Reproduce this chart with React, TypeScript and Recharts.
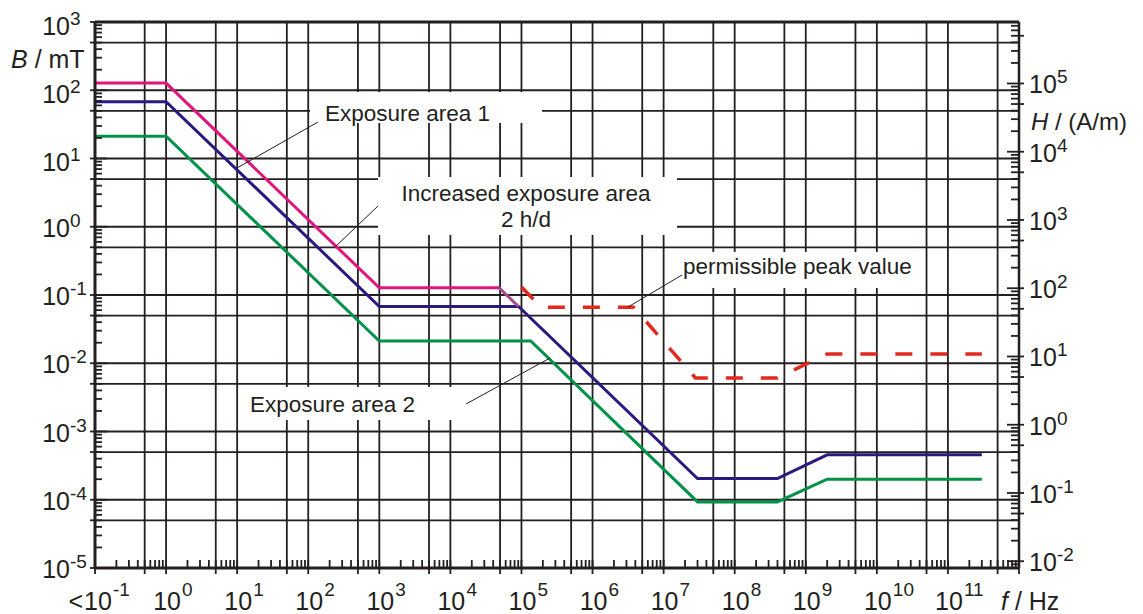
import React from 'react';
import { LineChart, Line, XAxis, YAxis, CartesianGrid, ReferenceLine } from 'recharts';

// B in mT -> H in A/m: H = B / (4*pi*1e-4)
const MU0 = 4 * Math.PI * 1e-4;

// increased exposure area 2 h/d (pink)
const incFreq = [0.1, 1, 1e3, 4.85e4];
const incB = [127.3, 127.3, 0.1273, 0.1273];
// short joint from the pink plateau down to the blue knee
const bridgeFreq = [4.85e4, 9.1e4];
const bridgeB = [0.1273, 0.0679];
// exposure area 1 (blue)
const area1Freq = [0.1, 1, 1e3, 9.1e4, 3e7, 4e8, 2e9, 3e11];
const area1B = [67.9, 67.9, 0.0679, 0.0679, 2.04e-4, 2.04e-4, 4.56e-4, 4.56e-4];
// exposure area 2 (green)
const area2Freq = [0.1, 1, 1e3, 1.35e5, 3e7, 4e8, 2e9, 3e11];
const area2B = [21.2, 21.2, 0.0212, 0.0212, 9.3e-5, 9.3e-5, 2.0e-4, 2.0e-4];
// permissible peak value (red dashed)
const peakFreq = [1e5, 1.9e5, 3.8e6, 2.8e7, 4e8, 2e9, 3e11];
const peakB = [0.131, 0.066, 0.066, 6.1e-3, 6.1e-3, 0.0137, 0.0137];

const gridFreq = [0.5, 1, 5, 10, 50, 100, 500, 1e3, 5e3, 1e4, 5e4, 1e5, 5e5, 1e6, 5e6, 1e7, 5e7, 1e8, 5e8, 1e9, 5e9, 1e10, 5e10, 1e11, 5e11];
const gridB = [5e-5, 1e-4, 5e-4, 1e-3, 5e-3, 1e-2, 5e-2, 0.1, 0.5, 1, 5, 10, 50, 100, 500];

const zip = (f: number[], b: number[]) => f.map((x, i) => ({ f: x, b: b[i] }));

function logTicks(lo: number, hi: number) {
  const out: number[] = [];
  for (let e = Math.floor(Math.log10(lo)); e <= Math.ceil(Math.log10(hi)); e++) {
    for (let m = 1; m <= 9; m++) {
      const v = Number((m * Math.pow(10, e)).toPrecision(6));
      if (v >= lo * (1 - 1e-9) && v <= hi * (1 + 1e-9)) out.push(v);
    }
  }
  return out;
}

function split(v: number) {
  const e = Math.floor(Math.log10(v) + 1e-9);
  const m = Math.round(v / Math.pow(10, e));
  return { e, m };
}

const INK = '#231f20';
const FONT = '"Liberation Sans", Arial, sans-serif';

const XTick = (props: any) => {
  const { x, y, payload } = props;
  const { e, m } = split(payload.value);
  const major = m === 1;
  return (
    <g>
      <line x1={x} x2={x} y1={y} y2={y - 8} stroke={INK} strokeWidth={1.8} />
      {(major || m === 5) && <line x1={x} x2={x} y1={y} y2={y + 6} stroke={INK} strokeWidth={1.8} />}
      {major && e <= 11 && (
        <g fontFamily={FONT} fill={INK}>
          {e === -1 && (
            <text x={x - 12} y={y + 42} fontSize={25} textAnchor="end">&lt;</text>
          )}
          <text x={x + (e === -1 ? 3 : 1)} y={y + 42} fontSize={25} textAnchor="middle">10</text>
          <text x={x + (e === -1 ? 18 : 16)} y={y + 28} fontSize={19}>{e}</text>
        </g>
      )}
    </g>
  );
};

const YTickL = (props: any) => {
  const { x, y, payload } = props;
  const { e, m } = split(payload.value);
  const major = m === 1;
  return (
    <g>
      <line x1={major || m === 5 ? x - 5 : x} x2={x + (major ? 12 : 7)} y1={y} y2={y} stroke={INK} strokeWidth={1.8} />
      {major && (
        <g fontFamily={FONT} fill={INK}>
          <text x={x - 25} y={y + (e > 0 ? 12.5 : 10)} fontSize={25} textAnchor="end">10</text>
          <text x={x - 25} y={y + (e > 0 ? 2.5 : 0)} fontSize={19}>{e}</text>
        </g>
      )}
    </g>
  );
};

const YTickR = (props: any) => {
  const { x, y, payload } = props;
  const { e, m } = split(payload.value);
  const major = m === 1;
  return (
    <g>
      <line x1={x - (major ? 12 : 8)} x2={major || m === 5 ? x + 5 : x} y1={y} y2={y} stroke={INK} strokeWidth={1.8} />
      {major && (
        <g fontFamily={FONT} fill={INK}>
          <text x={x + 10} y={y + 10} fontSize={25}>10</text>
          <text x={x + 38} y={y} fontSize={19}>{e}</text>
        </g>
      )}
    </g>
  );
};

const W = 1143;
const H = 614;

export default function App() {
  const xTicks = logTicks(0.1, 1e12);
  const yTicks = logTicks(1e-5, 1e3);
  const hTicks = logTicks(1e-5 / MU0, 1e3 / MU0);

  return (
    <div style={{ position: 'absolute', left: 0, top: 0, width: W, height: H, background: '#fff' }}>
      <LineChart width={W} height={H} margin={{ top: 22, right: 0, bottom: 0, left: 0 }}>
        <CartesianGrid
          stroke={INK}
          strokeWidth={1.8}
          strokeOpacity={1}
          verticalValues={gridFreq}
          horizontalValues={gridB}
        />
        <XAxis
          type="number"
          dataKey="f"
          scale="log"
          domain={[0.1, 1e12]}
          allowDataOverflow
          ticks={xTicks}
          interval={0}
          tick={<XTick />}
          tickLine={false}
          tickSize={0}
          tickMargin={0}
          height={46}
          axisLine={{ stroke: INK, strokeWidth: 3 }}
        />
        <YAxis
          type="number"
          dataKey="b"
          scale="log"
          domain={[1e-5, 1e3]}
          allowDataOverflow
          ticks={yTicks}
          interval={0}
          tick={<YTickL />}
          tickLine={false}
          tickSize={0}
          tickMargin={0}
          width={95}
          axisLine={{ stroke: INK, strokeWidth: 3 }}
        />
        <YAxis
          yAxisId="H"
          orientation="right"
          type="number"
          scale="log"
          domain={[1e-5 / MU0, 1e3 / MU0]}
          allowDataOverflow
          ticks={hTicks}
          interval={0}
          tick={<YTickR />}
          tickLine={false}
          tickSize={0}
          tickMargin={0}
          width={124}
          axisLine={{ stroke: INK, strokeWidth: 2.5 }}
        />
        <ReferenceLine y={1000} stroke={INK} strokeWidth={3} />
        <Line data={zip(area2Freq, area2B)} dataKey="b" type="linear" stroke="#009247" strokeWidth={3} dot={false} isAnimationActive={false} />
        <Line data={zip(area1Freq, area1B)} dataKey="b" type="linear" stroke="#2a1a80" strokeWidth={3} dot={false} isAnimationActive={false} />
        <Line data={zip(incFreq, incB)} dataKey="b" type="linear" stroke="#e2157c" strokeWidth={3} dot={false} isAnimationActive={false} />
        <Line data={zip(bridgeFreq, bridgeB)} dataKey="b" type="linear" stroke="#a34d8c" strokeWidth={3} dot={false} isAnimationActive={false} />
        <Line data={zip(peakFreq, peakB)} dataKey="b" type="linear" stroke="#e2291c" strokeWidth={3.5} strokeDasharray="17 18" dot={false} isAnimationActive={false} />
      </LineChart>

      <svg width={W} height={H} style={{ position: 'absolute', left: 0, top: 0, pointerEvents: 'none' }}>
        <g fontFamily={FONT} fill={INK}>
          <rect x={310} y={92} width={232} height={31} fill="#fff" />
          <line x1={237} y1={168} x2={318} y2={122} stroke={INK} strokeWidth={1} />
          <text x={325} y={120.5} fontSize={22.5}>Exposure area 1</text>

          <rect x={378} y={177} width={299} height={58} fill="#fff" />
          <line x1={335} y1={247} x2={378} y2={206} stroke={INK} strokeWidth={1} />
          <text x={526} y={201} fontSize={22.5} textAnchor="middle">Increased exposure area</text>
          <text x={526} y={227} fontSize={22.5} textAnchor="middle">2 h/d</text>

          <rect x={665} y={252} width={260} height={36} fill="#fff" />
          <line x1={628} y1={307} x2={682} y2={275} stroke={INK} strokeWidth={1} />
          <text x={683} y={273.5} fontSize={22.5}>permissible peak value</text>

          <rect x={240} y={387} width={230} height={33} fill="#fff" />
          <line x1={466} y1={404} x2={550} y2={358} stroke={INK} strokeWidth={1} />
          <text x={250} y={411.5} fontSize={22.5}>Exposure area 2</text>

          <text x={11} y={68} fontSize={25}>
            <tspan fontStyle="italic">B</tspan> / mT
          </text>
          <text x={1031} y={130} fontSize={24}>
            <tspan fontStyle="italic">H</tspan> / (A/m)
          </text>
          <text x={1001} y={610} fontSize={25}>
            <tspan fontStyle="italic">f</tspan> / Hz
          </text>
        </g>
      </svg>
    </div>
  );
}
